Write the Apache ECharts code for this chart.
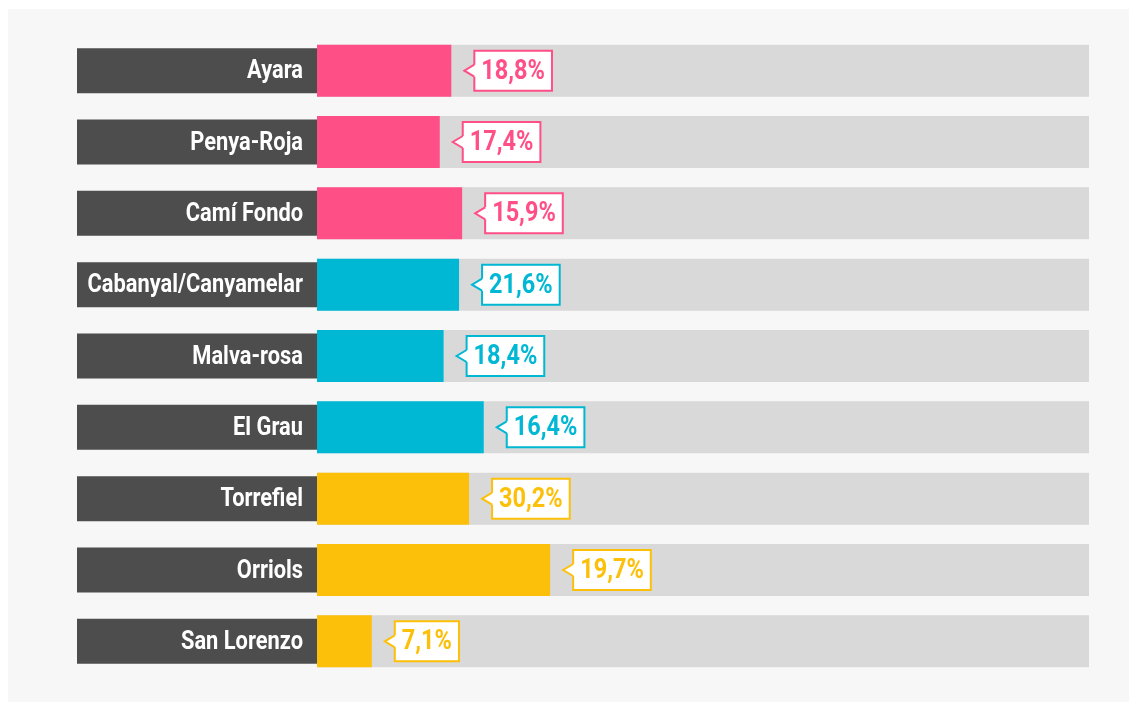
<!DOCTYPE html>
<html>
<head>
<meta charset="utf-8">
<script src="https://cdn.jsdelivr.net/npm/echarts@6/dist/echarts.min.js"></script>
<style>
html, body { margin: 0; padding: 0; background: #fff; }
#main { position: absolute; left: 8px; top: 9px; width: 1121px; height: 693px; background: #f7f7f7; }
</style>
</head>
<body>
<div id="main"></div>
<script>
var barrios = ['Ayara', 'Penya-Roja', 'Camí Fondo', 'Cabanyal/Canyamelar', 'Malva-rosa', 'El Grau', 'Torrefiel', 'Orriols', 'San Lorenzo']
// longitud de las barras (en %)
var valores = [17.4, 15.9, 18.8, 18.4, 16.4, 21.6, 19.7, 30.2, 7.1]
// texto que muestra cada etiqueta
var etiquetas = ['18,8%', '17,4%', '15,9%', '21,6%', '18,4%', '16,4%', '30,2%', '19,7%', '7,1%']
var grupos = [0, 0, 0, 1, 1, 1, 2, 2, 2]
var colores = ['#ff4f87', '#00b8d4', '#fdc00a']

// no hay fuente condensada: se estrecha Roboto en horizontal
var fuenteBarrio = 'bold 26px Roboto, sans-serif'
var fuenteEtiqueta = 'bold 28px Roboto, sans-serif'
var estrecho = 0.84

var ctx = document.createElement('canvas').getContext('2d')
function medir(txt) {
  ctx.font = fuenteEtiqueta
  return ctx.measureText(txt).width * estrecho
}

var myChart = echarts.init(document.getElementById('main'))
var option = {
  animation: false,
  grid: {
    left: 309,
    right: 40,
    top: 26,
    bottom: 25
  },
  xAxis: {
    type: 'value',
    min: 0,
    max: 100,
    show: false
  },
  yAxis: {
    type: 'category',
    inverse: true,
    data: barrios,
    axisLine: { show: false },
    axisTick: { show: false },
    splitLine: { show: false },
    axisLabel: { show: false }
  },
  series: [
    {
      type: 'bar',
      barWidth: 52,
      data: valores,
      showBackground: true,
      backgroundStyle: { color: '#d9d9d9' },
      itemStyle: {
        color: function (p) { return colores[grupos[p.dataIndex]] }
      }
    },
    {
      // cajas oscuras con el nombre del barrio
      type: 'custom',
      z: 1,
      data: barrios.map(function (b, i) { return [0, i] }),
      encode: { x: 0, y: 1 },
      renderItem: function (params, api) {
        var i = params.dataIndex
        var p = api.coord([0, i])
        return {
          type: 'group',
          children: [
            { type: 'rect', shape: { x: p[0] - 240, y: p[1] - 22.5, width: 240, height: 45 }, style: { fill: '#4d4d4d' } },
            { type: 'text', x: p[0] - 14, y: p[1] + 1, scaleX: estrecho, style: { text: barrios[i], fill: '#fff', font: fuenteBarrio, align: 'right', verticalAlign: 'middle' } }
          ]
        }
      }
    },
    {
      // etiquetas con el porcentaje
      type: 'custom',
      z: 10,
      data: valores.map(function (v, i) { return [v, i] }),
      encode: { x: 0, y: 1 },
      renderItem: function (params, api) {
        var i = params.dataIndex
        var p = api.coord([api.value(0), i])
        var color = colores[grupos[i]]
        var cy = p[1]
        var tip = p[0] + 13
        var left = tip + 10
        var txt = etiquetas[i]
        var w = medir(txt) + 14
        var h = 40
        return {
          type: 'group',
          children: [
            { type: 'rect', shape: { x: left, y: cy - h / 2, width: w, height: h }, style: { fill: '#fff', stroke: color, lineWidth: 2 } },
            { type: 'polygon', shape: { points: [[tip, cy], [left, cy - 6], [left + 2, cy - 6], [left + 2, cy + 6], [left, cy + 6]] }, style: { fill: '#fff' } },
            { type: 'polyline', shape: { points: [[left, cy - 6], [tip, cy], [left, cy + 6]] }, style: { stroke: color, lineWidth: 2, fill: null } },
            { type: 'text', x: left + 7, y: cy + 1, scaleX: estrecho, style: { text: txt, fill: color, font: fuenteEtiqueta, align: 'left', verticalAlign: 'middle' } }
          ]
        }
      }
    }
  ]
}
myChart.setOption(option)
</script>
</body>
</html>
